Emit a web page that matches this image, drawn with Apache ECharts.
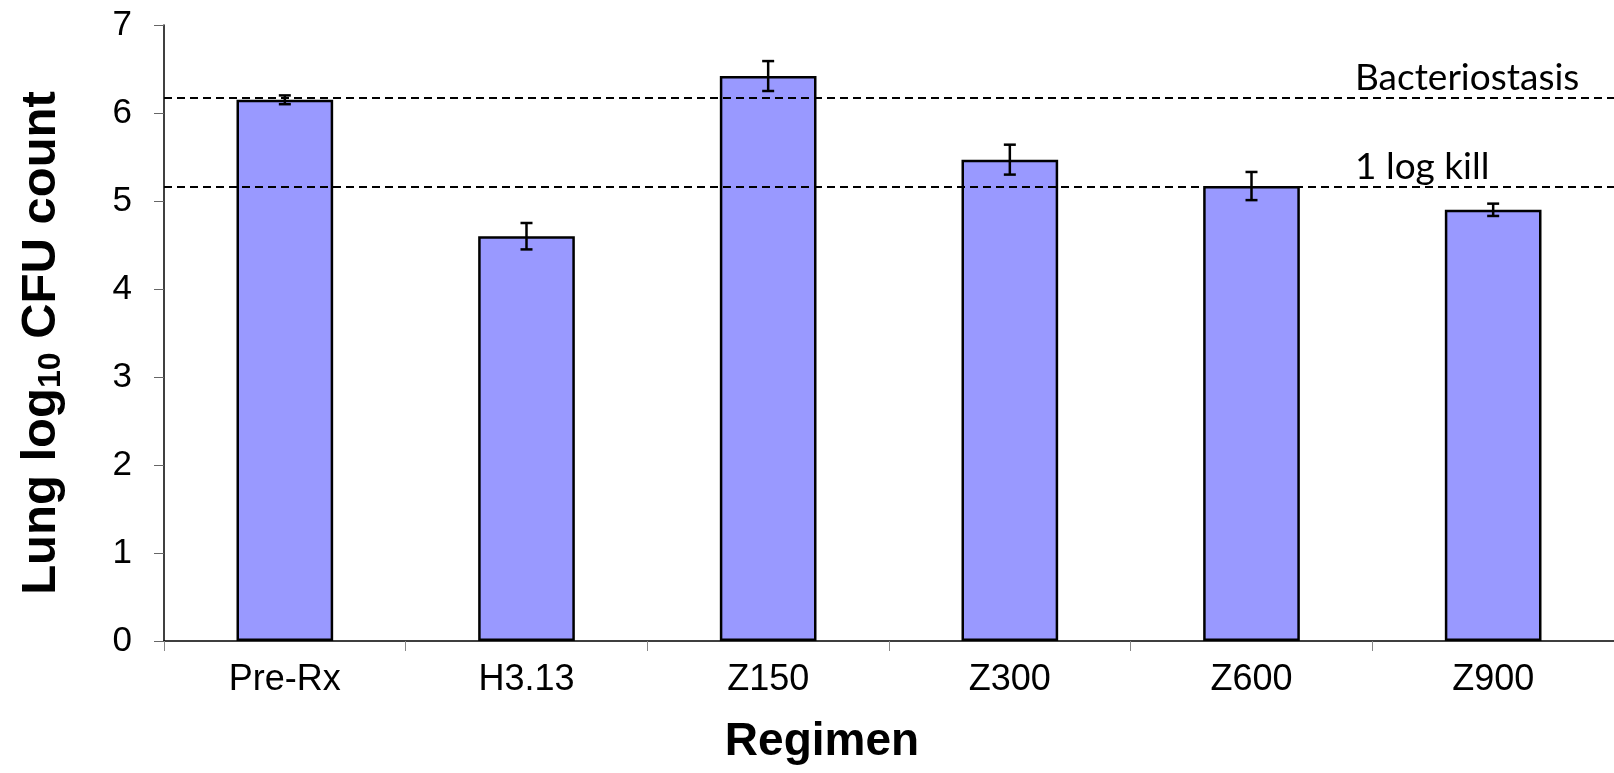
<!DOCTYPE html>
<html>
<head>
<meta charset="utf-8">
<script src="https://cdn.jsdelivr.net/npm/echarts@6/dist/echarts.min.js"></script>
<style>
  html, body { margin: 0; padding: 0; background: #fff; }
  #main { width: 1614px; height: 773px; }
</style>
</head>
<body>
<div id="main"></div>
<script>
// values
var categories = ['Pre-Rx', 'H3.13', 'Z150', 'Z300', 'Z600', 'Z900'];
var means = [6.15, 4.60, 6.42, 5.47, 5.17, 4.90];
var errors = [0.05, 0.15, 0.17, 0.17, 0.16, 0.07];
var refLevels = [6.17, 5.16];
var refNames = ['Bacteriostasis', '1 log kill'];

var errData = means.map(function (m, i) { return [i, m - errors[i], m + errors[i]]; });

var chart = echarts.init(document.getElementById('main'));

chart.setOption({
  animation: false,
  backgroundColor: '#fff',
  grid: { left: 164, top: 25, right: 0, bottom: 132, containLabel: false },
  xAxis: {
    type: 'category',
    data: categories,
    name: 'Regimen',
    nameLocation: 'middle',
    nameGap: 78,
    // title sits left of the plot centre in the original
    nameTextStyle: { fontFamily: 'Liberation Sans', fontWeight: 'bold', fontSize: 46, color: '#000', padding: [0, 134, 0, 0] },
    axisLine: { lineStyle: { color: '#000', width: 1.5 } },
    axisTick: { show: true, length: 10, lineStyle: { color: '#888' } },
    axisLabel: { fontFamily: 'Liberation Sans', fontSize: 36, color: '#000', margin: 21 }
  },
  yAxis: {
    type: 'value',
    min: 0,
    max: 7,
    interval: 1,
    name: '{a|Lung log}{s|10}{a| CFU count}',
    nameLocation: 'middle',
    nameGap: 97,
    nameTextStyle: {
      padding: [0, 20, 0, 0],
      rich: {
        a: { fontFamily: 'Liberation Sans', fontWeight: 'bold', fontSize: 49, color: '#000', lineHeight: 52 },
        s: { fontFamily: 'Liberation Sans', fontWeight: 'bold', fontSize: 32, color: '#000', lineHeight: 22, verticalAlign: 'bottom' }
      }
    },
    axisLine: { show: true, lineStyle: { color: '#000', width: 1.5 } },
    axisTick: { show: true, length: 10, lineStyle: { color: '#666' } },
    splitLine: { show: false },
    axisLabel: { fontFamily: 'Liberation Sans', fontSize: 35, color: '#000', margin: 32 }
  },
  series: [
    {
      type: 'bar',
      data: means,
      barWidth: '40%',
      itemStyle: { color: '#9999ff', borderColor: '#000', borderWidth: 2.5 },
      markLine: {
        silent: true,
        symbol: 'none',
        z: 5,
        lineStyle: { color: '#000', width: 2, type: [8, 5] },
        label: {
          position: 'insideStartTop',
          distance: [1191, 1],
          align: 'left',
          fontFamily: 'Lato',
          fontSize: 37,
          color: '#000',
          formatter: function (p) { return p.name; }
        },
        data: refLevels.map(function (v, i) { return { name: refNames[i], yAxis: v }; })
      }
    },
    {
      type: 'custom',
      z: 10,
      data: errData,
      renderItem: function (params, api) {
        var x = api.value(0);
        var lo = api.coord([x, api.value(1)]);
        var hi = api.coord([x, api.value(2)]);
        var half = 6;
        var style = { stroke: '#000', lineWidth: 2.5 };
        return {
          type: 'group',
          children: [
            { type: 'line', shape: { x1: lo[0], y1: lo[1], x2: hi[0], y2: hi[1] }, style: style },
            { type: 'line', shape: { x1: lo[0] - half, y1: lo[1], x2: lo[0] + half, y2: lo[1] }, style: style },
            { type: 'line', shape: { x1: hi[0] - half, y1: hi[1], x2: hi[0] + half, y2: hi[1] }, style: style }
          ]
        };
      }
    }
  ]
});
</script>
</body>
</html>
